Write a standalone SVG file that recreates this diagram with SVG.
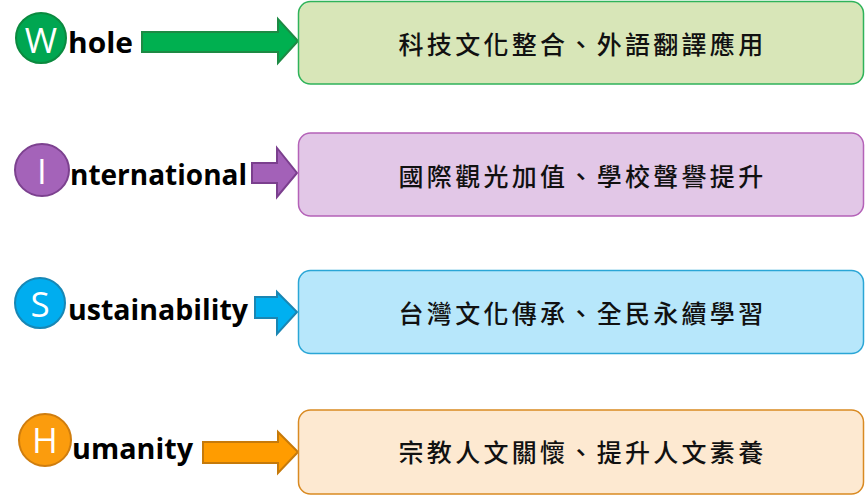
<svg xmlns="http://www.w3.org/2000/svg" width="866" height="497" viewBox="0 0 866 497">
<style>
.box{stroke-width:1.5}
.cjk{font-family:"Noto Sans CJK TC","Noto Sans CJK SC",sans-serif;font-size:25px;font-weight:500;fill:#111;text-anchor:middle;letter-spacing:3.3px}
.word{font-family:"Open Sans","Liberation Sans",sans-serif;font-weight:bold;font-size:28px;fill:#000}
.ini{font-family:"Open Sans","Liberation Sans",sans-serif;font-size:35px;fill:#fff;text-anchor:middle}
.arr{stroke-width:2;stroke-linejoin:miter}
</style>
<rect width="866" height="497" fill="#fff"/>
<g id="connectors">
<path class="arr" fill="#00b050" stroke="#1d8a44" d="M142,32 H278 V19 L298,41 L278,63 V52 H142 Z"/>
<path class="arr" fill="#a361b8" stroke="#7b3f8e" d="M252,163 H277 V148 L297,173 L277,197 V183 H252 Z"/>
<path class="arr" fill="#00b0f0" stroke="#1a86b3" d="M255,297 H277 V292 L297,312 L277,334 V318 H255 Z"/>
<path class="arr" fill="#ff9c00" stroke="#c67a0a" d="M203,442 H278 V432 L298,452 L278,473 V463 H203 Z"/>
</g>
<g id="whole">
<circle cx="41" cy="38" r="25" fill="#00a651" stroke="#0b8a3f" stroke-width="2"/>
<text class="ini" x="41" y="53">W</text>
<text class="word" x="68" y="53" textLength="65" lengthAdjust="spacingAndGlyphs">hole</text>
</g>
<g id="international">
<ellipse cx="42" cy="170" rx="27" ry="26" fill="#a463b9" stroke="#7c418f" stroke-width="2"/>
<text class="ini" x="42" y="184">I</text>
<text class="word" x="70" y="185" textLength="177" lengthAdjust="spacingAndGlyphs">nternational</text>
</g>
<g id="sustainability">
<circle cx="40" cy="303" r="25" fill="#00adef" stroke="#1787b5" stroke-width="2"/>
<text class="ini" x="40" y="317">S</text>
<text class="word" x="68" y="320" textLength="180" lengthAdjust="spacingAndGlyphs">ustainability</text>
</g>
<g id="humanity">
<circle cx="45" cy="440" r="26" fill="#fb9c0d" stroke="#cf7d0e" stroke-width="2"/>
<text class="ini" x="45" y="453">H</text>
<text class="word" x="72" y="459" textLength="121" lengthAdjust="spacingAndGlyphs">umanity</text>
</g>
<g id="box1">
<rect class="box" x="298.5" y="1.5" width="565" height="82.5" rx="12" fill="#d8e6b8" stroke="#2fb35a"/>
<text class="cjk" x="582.5" y="54">科技文化整合、外語翻譯應用</text>
</g>
<g id="box2">
<rect class="box" x="298.5" y="133" width="565" height="83" rx="12" fill="#e2c7e7" stroke="#b462b8"/>
<text class="cjk" x="582.5" y="186">國際觀光加值、學校聲譽提升</text>
</g>
<g id="box3">
<rect class="box" x="298.5" y="270.5" width="565" height="83" rx="12" fill="#b7e7fb" stroke="#2aa6d6"/>
<text class="cjk" x="582.5" y="323">台灣文化傳承、全民永續學習</text>
</g>
<g id="box4">
<rect class="box" x="298.5" y="410" width="565" height="84" rx="12" fill="#fde9d1" stroke="#d98a22"/>
<text class="cjk" x="582.5" y="462">宗教人文關懷、提升人文素養</text>
</g>
</svg>
